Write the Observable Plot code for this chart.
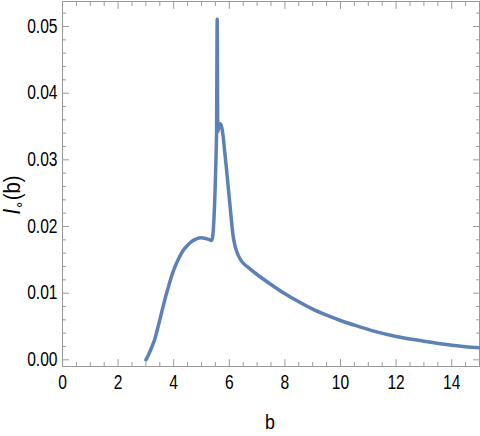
<!DOCTYPE html>
<html>
<head>
<meta charset="utf-8">
<script src="https://cdn.jsdelivr.net/npm/d3@7"></script>
<script src="https://cdn.jsdelivr.net/npm/@observablehq/plot@0.6"></script>
<style>
  html, body { margin: 0; padding: 0; background: #fff; }
  #chart svg { display: block; }
</style>
</head>
<body>
<div id="chart"></div>
<script>
// impact parameter b
const bValues = [3.00, 3.10, 3.20, 3.32, 3.44, 3.56, 3.68, 3.80, 3.92, 4.04, 4.18, 4.34, 4.48, 4.63, 4.80, 4.99, 5.15, 5.30, 5.37, 5.54, 5.565, 5.585, 5.62, 5.67, 5.72, 5.78, 5.83, 5.89, 5.95, 6.01, 6.07, 6.13, 6.20, 6.28, 6.38, 6.48, 6.70, 7.00, 7.50, 8.00, 8.50, 9.00, 9.50, 10.0, 10.5, 11.2, 12.0, 13.0, 14.0, 15.0];
// I_o(b)
const iValues = [0.0000, 0.0008, 0.0018, 0.0031, 0.0050, 0.0070, 0.0090, 0.0108, 0.0125, 0.0139, 0.0152, 0.0164, 0.0171, 0.0177, 0.0181, 0.0183, 0.0182, 0.0180, 0.0179, 0.0335, 0.0511, 0.0342, 0.0349, 0.0354, 0.0350, 0.0335, 0.0314, 0.0290, 0.0264, 0.0238, 0.0212, 0.0188, 0.0172, 0.0161, 0.0152, 0.0146, 0.0138, 0.0128, 0.0113, 0.0099, 0.0087, 0.0076, 0.0067, 0.0059, 0.0052, 0.0043, 0.0035, 0.0028, 0.0022, 0.0018];
const xTickLabels = [0, 2, 4, 6, 8, 10, 12, 14];
const yTickLabels = [0.00, 0.01, 0.02, 0.03, 0.04, 0.05];

const data = bValues.map((b, i) => ({b, v: iValues[i]}));
const xMinor = d3.range(0, 15.01, 0.5).filter(d => !xTickLabels.includes(d));
const yMinor = d3.range(0, 27).map(i => i * 0.002).filter(d => Math.round(d * 1000) % 10 !== 0 && d < 0.0535);

const tickShape = {draw(context, l) { context.moveTo(0, 0); context.lineTo(0, -l); }};
const frameColor = "#999999";
function ticks(values, anchor, len) {
  const rotate = {bottom: 0, top: 180, left: 90, right: -90}[anchor];
  const isX = anchor === "bottom" || anchor === "top";
  return Plot.vector(values, {
    [isX ? "x" : "y"]: d => d,
    frameAnchor: anchor,
    length: len,
    rotate,
    anchor: "start",
    shape: tickShape,
    stroke: frameColor,
    strokeWidth: 1
  });
}

const plot = Plot.plot({
  width: 480,
  height: 436,
  marginLeft: 62,
  marginRight: 1,
  marginTop: 1,
  marginBottom: 70,
  style: {fontFamily: "'Liberation Sans', Arial, sans-serif", fontSize: "19.5px", color: "#000", background: "#fff"},
  x: {domain: [0, 15]},
  y: {domain: [-0.001, 0.05375]},
  marks: [
    Plot.frame({stroke: frameColor}),
    ticks(xTickLabels, "bottom", 7),
    ticks(xMinor, "bottom", 4),
    ticks(xTickLabels, "top", 7),
    ticks(xMinor, "top", 4),
    ticks(yTickLabels, "left", 6),
    ticks(yMinor, "left", 3),
    ticks(yTickLabels, "right", 6),
    ticks(yMinor, "right", 3),
    Plot.axisX(xTickLabels, {anchor: "bottom", tickSize: 0, tickPadding: 9, label: null, tickFormat: d => String(d), fill: "#000"}),
    Plot.axisY(yTickLabels, {anchor: "left", tickSize: 0, tickPadding: 5, label: null, tickFormat: d3.format(".2f"), fill: "#000"}),
    Plot.line(data, {x: "b", y: "v", stroke: "#5e81b5", strokeWidth: 3.5, curve: "monotone-x", strokeLinejoin: "round", strokeLinecap: "round"})
  ]
});

const svg = d3.select(plot);
// narrow the tick label glyphs (condensed look of the original)
svg.selectAll("g[aria-label='x-axis tick label'] text, g[aria-label='y-axis tick label'] text").each(function() {
  const t = this.getAttribute("transform");
  if (t) this.setAttribute("transform", `${t} scale(0.8,1)`);
});
svg.append("text")
  .attr("transform", "translate(270,429) scale(0.85,1)")
  .attr("text-anchor", "middle")
  .attr("font-size", 21)
  .attr("fill", "#000")
  .text("b");
const yl = svg.append("text")
  .attr("transform", "translate(20,195) rotate(-90) scale(0.88,1)")
  .attr("text-anchor", "middle")
  .attr("font-size", 23)
  .attr("fill", "#000");
yl.append("tspan").attr("font-style", "italic").text("I");
yl.append("tspan").attr("font-size", 15).attr("dy", 4).text("\u2218");
yl.append("tspan").attr("dy", -4).text("(b)");

document.getElementById("chart").appendChild(plot);
</script>
</body>
</html>
